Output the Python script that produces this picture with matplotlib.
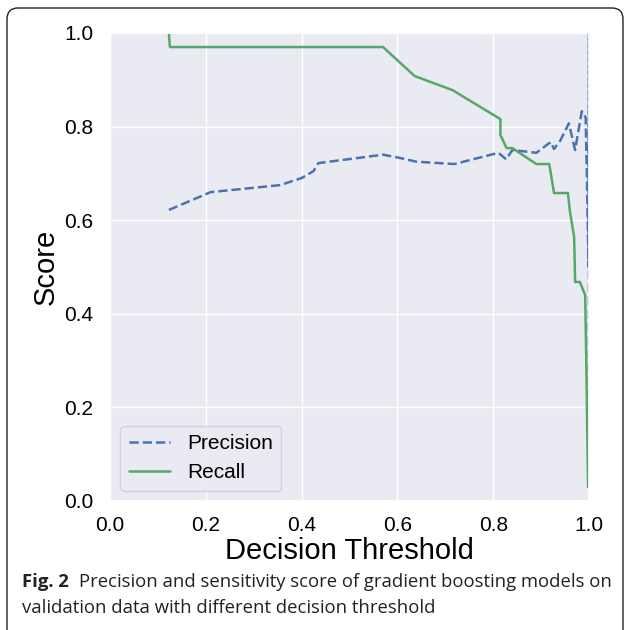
import matplotlib
matplotlib.use("Agg")
import matplotlib.pyplot as plt
import seaborn as sns
from matplotlib.patches import FancyBboxPatch

# thresholds / scores
prec_thr = [0.123, 0.21, 0.355, 0.40, 0.425, 0.435, 0.57, 0.605, 0.64, 0.719,
            0.811, 0.827, 0.84, 0.89, 0.92, 0.927, 0.94, 0.958, 0.971, 0.985,
            0.993, 0.996, 0.999, 1.0, 1.0]
precision = [0.622, 0.66, 0.675, 0.69, 0.705, 0.722, 0.74, 0.733, 0.725, 0.72,
             0.744, 0.73, 0.75, 0.744, 0.767, 0.752, 0.77, 0.807, 0.75, 0.833,
             0.82, 0.67, 0.5, 1.0, 0.03]
rec_thr = [0.123, 0.125, 0.57, 0.636, 0.715, 0.815, 0.815, 0.828, 0.84, 0.89,
           0.917, 0.927, 0.956, 0.96, 0.969, 0.971, 0.981, 0.992, 0.994, 0.998]
recall = [1.0, 0.97, 0.97, 0.908, 0.878, 0.816, 0.782, 0.754, 0.754, 0.72,
          0.72, 0.658, 0.658, 0.62, 0.564, 0.468, 0.468, 0.44, 0.32, 0.03]

sns.set_theme(style="darkgrid")
plt.rcParams['font.family'] = ['Liberation Sans', 'DejaVu Sans']
plt.rcParams['text.color'] = 'black'
plt.rcParams['axes.labelcolor'] = 'black'
plt.rcParams['xtick.color'] = 'black'
plt.rcParams['ytick.color'] = 'black'

fig = plt.figure(figsize=(6.26, 6.30), dpi=100)

# rounded frame around figure + caption
bg = fig.add_axes([0, 0, 1, 1])
bg.set_xlim(0, 626)
bg.set_ylim(630, 0)
bg.axis('off')
bg.add_patch(FancyBboxPatch((7, 8), 616, 640, boxstyle="round,pad=0,rounding_size=11",
                            fc='white', ec='#222222', lw=1.0))
cap_font = ['Open Sans', 'DejaVu Sans']
bg.text(22, 582, "Fig. 2", fontsize=13.3, fontweight='bold', family=cap_font,
        va='center', ha='left', color='#222222')
bg.text(79, 582, "Precision and sensitivity score of gradient boosting models on",
        fontsize=13.3, family=cap_font, va='center', ha='left', color='#222222')
bg.text(22, 608, "validation data with different decision threshold",
        fontsize=13.3, family=cap_font, va='center', ha='left', color='#222222')

ax = fig.add_axes([110/626, 1 - 501/630, 479/626, 468/630])
ax.plot(prec_thr, precision, '--', color='#4C72B0', lw=1.8, label='Precision')
ax.plot(rec_thr, recall, '-', color='#55A868', lw=1.8, label='Recall')
ax.set_xlim(0, 1.0)
ax.set_ylim(0, 1.0)
ax.set_xticks([0, 0.2, 0.4, 0.6, 0.8, 1.0])
ax.set_yticks([0, 0.2, 0.4, 0.6, 0.8, 1.0])
ax.tick_params(axis='x', labelsize=15, pad=5)
ax.tick_params(axis='y', labelsize=15, pad=6)
ax.set_xlabel('Decision Threshold', fontsize=21, labelpad=1)
ax.set_ylabel('Score', fontsize=21, labelpad=3)
ax.legend(loc='lower left', fontsize=15)

plt.savefig('out.png', dpi=100)
